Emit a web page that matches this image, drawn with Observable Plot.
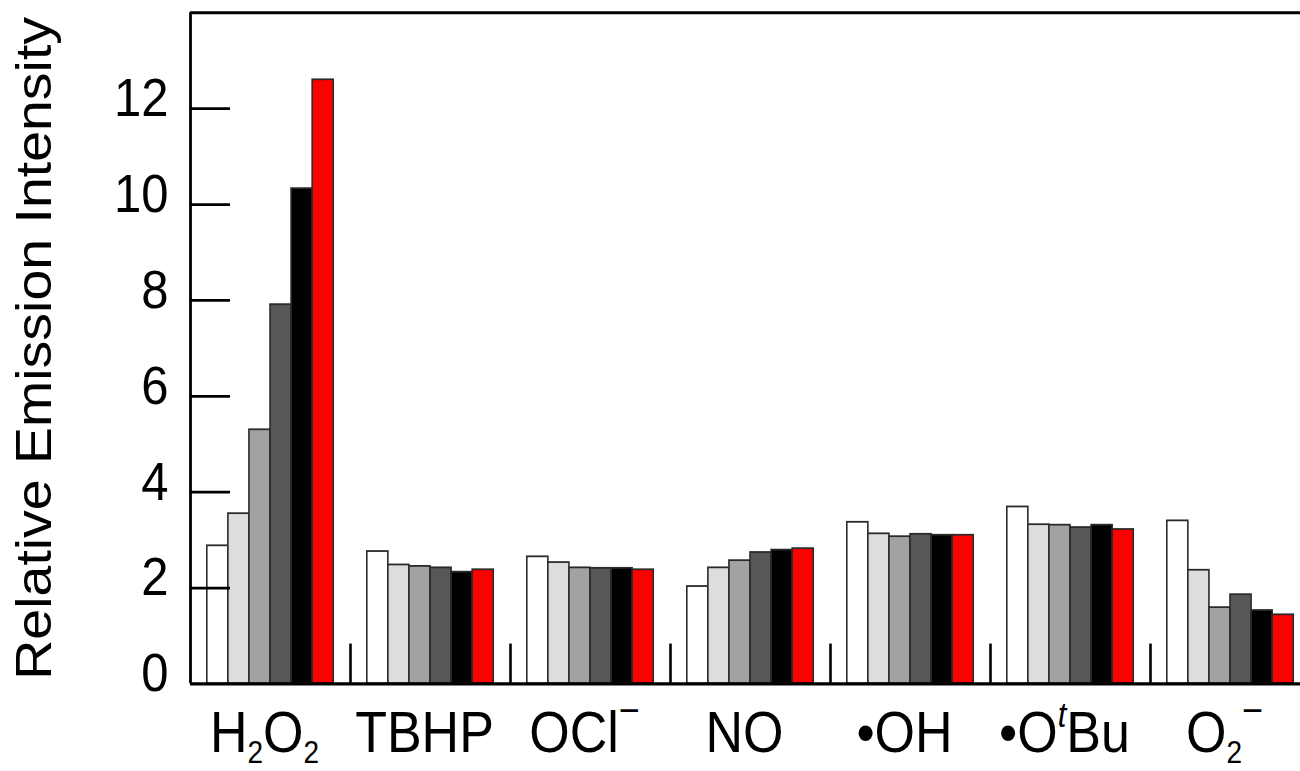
<!DOCTYPE html>
<html>
<head>
<meta charset="utf-8">
<script src="https://cdn.jsdelivr.net/npm/d3@7"></script>
<script src="https://cdn.jsdelivr.net/npm/@observablehq/plot@0.6"></script>
<style>
  html, body { margin: 0; padding: 0; background: #fff; }
  #chart svg { display: block; }
</style>
</head>
<body>
<div id="chart"></div>
<script>
// ---- data ----
const categories = ["H2O2", "TBHP", "OCl-", "NO", "•OH", "•OtBu", "O2-"];
const series = ["s1", "s2", "s3", "s4", "s5", "s6"];
const s1 = [2.88, 2.76, 2.65, 2.03, 3.37, 3.69, 3.40];
const s2 = [3.55, 2.48, 2.53, 2.42, 3.13, 3.32, 2.37];
const s3 = [5.30, 2.45, 2.42, 2.57, 3.07, 3.31, 1.59];
const s4 = [7.91, 2.42, 2.41, 2.74, 3.12, 3.26, 1.86];
const s5 = [10.33, 2.33, 2.41, 2.79, 3.10, 3.31, 1.53];
const s6 = [12.60, 2.38, 2.38, 2.82, 3.10, 3.22, 1.44];
const yTicks = [0, 2, 4, 6, 8, 10, 12];
const yLabel = "Relative Emission Intensity";

// ---- table ----
const seriesValues = [s1, s2, s3, s4, s5, s6];
const rows = [];
categories.forEach((c, ci) => {
  series.forEach((s, si) => {
    rows.push({category: c, ci, series: s, si, value: seriesValues[si][ci]});
  });
});

const fills = ["#ffffff", "#dcdddd", "#a2a2a2", "#565758", "#000000", "#ff0000"];
const groupPad = 0.105;
const barW = 0.1317;

const W = 1300, H0 = 695, H = 771;

const chart = Plot.plot({
  width: W,
  height: H0,
  marginTop: 11,
  marginBottom: 79,
  marginLeft: 190,
  marginRight: 0,
  style: {fontFamily: "'Liberation Sans', Arial, Helvetica, sans-serif", background: "#fff", color: "#000"},
  x: {type: "linear", domain: [0, categories.length], range: [190, 1310], axis: null},
  y: {domain: [0, 14], axis: null},
  color: {domain: series, range: fills},
  marks: [
    Plot.rectY(rows, {
      x1: d => d.ci + groupPad + d.si * barW,
      x2: d => d.ci + groupPad + (d.si + 1) * barW,
      y1: 0,
      y2: "value",
      fill: "series",
      stroke: "#2a2a2a",
      strokeWidth: 1.6
    }),
    // frame
    Plot.ruleX([0], {y1: 0, y2: 14, stroke: "#000", strokeWidth: 2.8}),
    Plot.ruleY([0], {x1: 0, x2: categories.length, stroke: "#000", strokeWidth: 2.8}),
    Plot.ruleY([14], {x1: 0, x2: categories.length, stroke: "#000", strokeWidth: 2.6}),
    // inward y ticks
    Plot.ruleY(yTicks.filter(t => t > 0), {x1: 0, x2: 0.25, stroke: "#000", strokeWidth: 2.5}),
    // group separators
    Plot.ruleX(d3.range(1, categories.length), {y1: 0, y2: 0.83, stroke: "#000", strokeWidth: 2.6}),
    // y tick labels
    Plot.text(yTicks, {x: 0, y: d => d, dx: -22, dy: -9, text: d => String(d), textAnchor: "end", fontSize: 49, fill: "#000"}),
    // category labels
    Plot.text(categories, {x: (d, i) => i + 0.5, y: 0, dx: -6, dy: 61, text: d => d, textAnchor: "middle", lineAnchor: "bottom", fontSize: 52, fill: "#000"}),
    // y label
    Plot.text([yLabel], {frameAnchor: "left", rotate: -90, dx: -156, text: d => d, textAnchor: "middle", fontSize: 50, fill: "#000"})
  ]
});

// rich label markup (subscripts / superscripts)
const markup = {
  "H2O2": 'H<tspan font-size="28" dy="10">2</tspan><tspan dy="-10">O</tspan><tspan font-size="28" dy="10">2</tspan>',
  "OCl-": 'OCl<tspan font-size="36" dy="-25">\u2212</tspan>',
  "•OtBu": '\u2022O<tspan font-size="31" font-style="italic" dy="-22">t</tspan><tspan dy="22">Bu</tspan>',
  "O2-": 'O<tspan font-size="28" dy="10">2</tspan><tspan font-size="36" dy="-35">\u2212</tspan>',
  "•OH": '\u2022OH'
};
d3.select(chart).selectAll("text").each(function () {
  const t = this.textContent;
  if (markup[t] !== undefined) this.innerHTML = markup[t];
});

// vertical stretch to match the reference's aspect
chart.setAttribute("viewBox", `0 0 ${W} ${H0}`);
chart.setAttribute("preserveAspectRatio", "none");
chart.setAttribute("width", W);
chart.setAttribute("height", H);
chart.style.width = W + "px";
chart.style.height = H + "px";
chart.style.maxWidth = "none";

document.getElementById("chart").appendChild(chart);
</script>
</body>
</html>
